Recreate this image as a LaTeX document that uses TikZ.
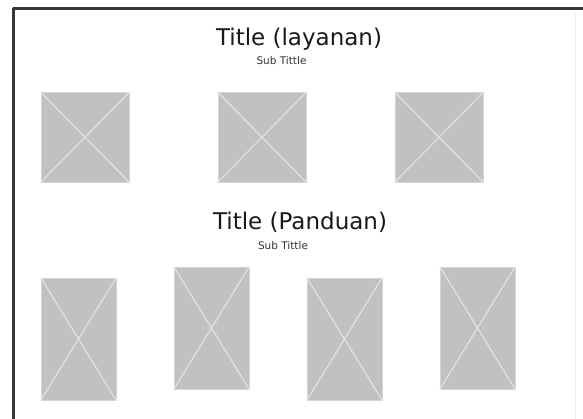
\documentclass[tikz,border=0pt]{standalone}
\usepackage{fontspec}
\setmainfont{DejaVu Sans}
\definecolor{framegray}{RGB}{55,55,55}
\definecolor{edgegray}{RGB}{236,236,236}
\definecolor{boxgray}{RGB}{193,193,193}
\definecolor{crossgray}{RGB}{226,226,226}
\tikzset{
  imgbox/.style={fill=boxgray,draw=crossgray!60!boxgray,line width=0.6pt},
  cross/.style={draw=crossgray,line width=1.2pt},
  titletext/.style={font=\fontsize{23}{26}\selectfont,text=black!90,anchor=base,inner sep=0pt},
  subtext/.style={font=\fontsize{10.5}{12}\selectfont,text=black!80,anchor=base,inner sep=0pt}
}
\begin{document}
\begin{tikzpicture}[x=1pt,y=-1pt,line cap=round,line join=round]
  \useasboundingbox (0,0) rectangle (583,419);
  \fill[white] (0,0) rectangle (583,419);
  % frame
  \draw[edgegray,line width=0.8pt] (575,13) -- (575,419);
  \draw[framegray,line width=2.2pt,line cap=butt] (13.5,419) -- (13.5,8.5) -- (583,8.5);
  % titles
  \node[titletext] (t1) at (299,46) {Title (layanan)};
  \node[subtext] (s1) at (281.5,65) {Sub Tittle};
  \node[titletext] (t2) at (300,230) {Title (Panduan)};
  \node[subtext] (s2) at (283,250) {Sub Tittle};
  % layanan images
  \foreach \xa/\xb in {41/129,218/306,395/483}{
    \filldraw[imgbox] (\xa,92.5) rectangle (\xb,182);
    \draw[cross] (\xa,92.5) -- (\xb,182) (\xa,182) -- (\xb,92.5);
  }
  % panduan images
  \foreach \xa/\ya in {41/278,174/267,307/278,440/267}{
    \filldraw[imgbox] (\xa,\ya) rectangle (\xa+75,\ya+122);
    \draw[cross] (\xa,\ya) -- (\xa+75,\ya+122) (\xa,\ya+122) -- (\xa+75,\ya);
  }
\end{tikzpicture}
\end{document}
